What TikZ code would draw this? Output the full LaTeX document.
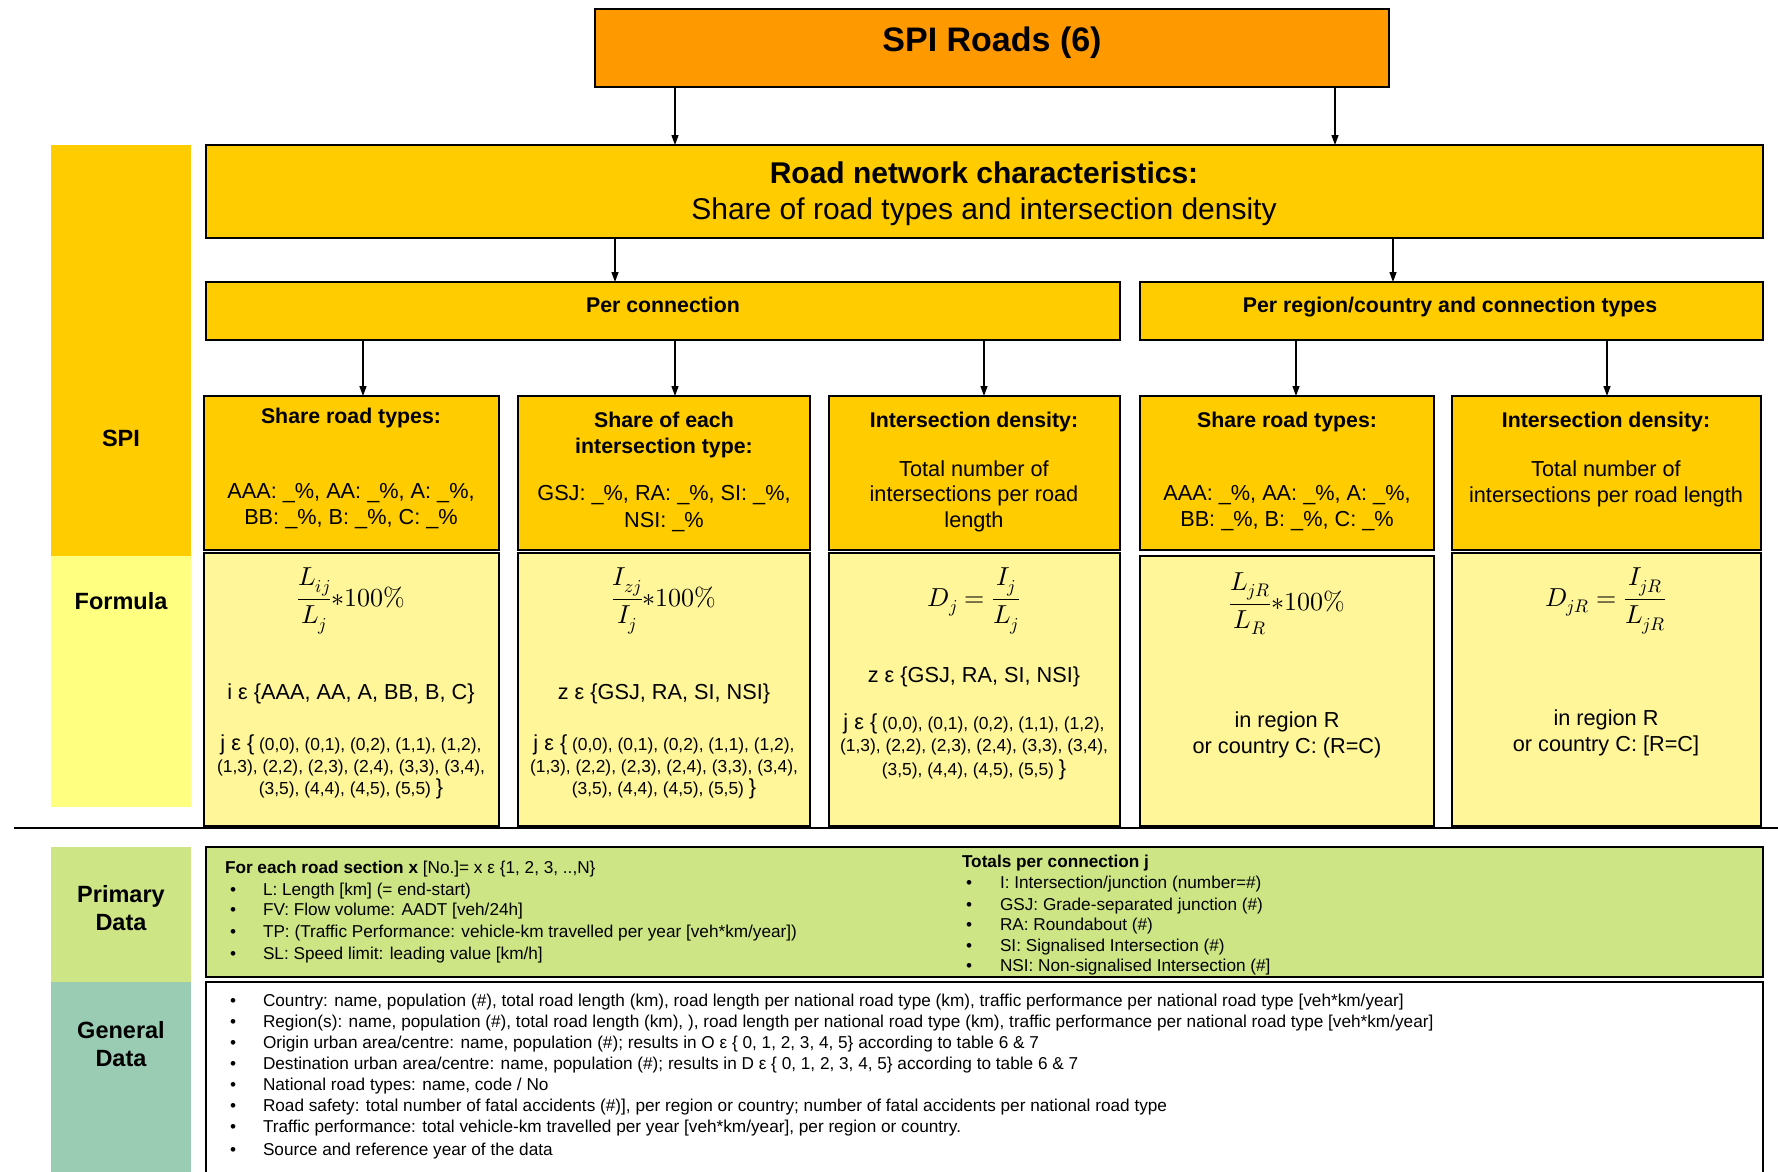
\documentclass[tikz,border=0pt]{standalone}
\usepackage{amsmath}
\usepackage{fontspec}
\usepackage{unicode-math}
\setmainfont{Liberation Sans}
\usetikzlibrary{arrows.meta}
\definecolor{cOrange}{HTML}{FF9900}
\definecolor{cGold}{HTML}{FFCC00}
\definecolor{cPale}{HTML}{FFF599}
\definecolor{cLab}{HTML}{FFFF80}
\definecolor{cLime}{HTML}{CDE584}
\definecolor{cTeal}{HTML}{99CCB3}
\tikzset{
  box/.style={draw=black, line width=2.5pt, inner sep=0pt, outer sep=0pt, anchor=north west},
  lab/.style={draw=none, inner sep=0pt, outer sep=0pt, anchor=north west},
  txt/.style={inner sep=0pt, outer sep=0pt, text depth=0pt},
  s33b/.style={txt, font=\fontsize{34}{40}\selectfont\bfseries, text height=24.5pt},
  s30b/.style={txt, font=\fontsize{30}{36}\selectfont\bfseries, text height=21.6pt},
  s30/.style={txt, font=\fontsize{30}{36}\selectfont, text height=21.6pt},
  s22b/.style={txt, font=\fontsize{23.5}{28}\selectfont\bfseries, text height=16.9pt},
  s20b/.style={txt, font=\fontsize{21.3}{25}\selectfont\bfseries, text height=15.3pt},
  s21/.style={txt, font=\fontsize{21.7}{26}\selectfont, text height=15.6pt},
  s17/.style={txt, font=\fontsize{17.4}{21}\selectfont, text height=12.5pt},
  s16/.style={txt, font=\fontsize{17.2}{20}\selectfont, text height=12.4pt, anchor=west},
  mth/.style={inner sep=0pt, outer sep=0pt, font=\fontsize{26}{30}\selectfont},
  arr/.style={line width=1.3pt, -{Triangle[length=10pt,width=7pt]}}
}
\newcommand{\jopen}{{\fontsize{21.7}{26}\selectfont j ε \{}}
\newcommand{\jclose}{{\fontsize{21.7}{26}\selectfont \}}}
\begin{document}
\begin{tikzpicture}[x=1pt,y=-1pt]
\useasboundingbox (0,0) rectangle (1778,1171);

% left labels
\node[lab, fill=cGold, minimum width=140pt, minimum height=411pt] (lspi) at (51,145) {};
\node[lab, fill=cLab, minimum width=140pt, minimum height=251pt] (lfor) at (51,556) {};
\node[lab, fill=cLime, minimum width=140pt, minimum height=135pt] (lpri) at (51,847) {};
\node[lab, fill=cTeal, minimum width=140pt, minimum height=190pt] (lgen) at (51,982) {};
\node[s22b] (tspi) at (121,438) {SPI};
\node[s22b] (tfor) at (121,601) {Formula};
\node[s22b] (tpri1) at (121,894) {Primary};
\node[s22b] (tpri2) at (121,922) {Data};
\node[s22b] (tgen1) at (121,1030) {General};
\node[s22b] (tgen2) at (121,1058) {Data};

% separator
\coordinate (sepL) at (14,828);
\coordinate (sepR) at (1778,828);
\draw[line width=2pt] (sepL) -- (sepR);

% title and top boxes
\node[box, fill=cOrange, minimum width=794pt, minimum height=78pt] (title) at (595,9) {};
\node[s33b] (ttitle) at (992,39) {SPI Roads (6)};
\node[box, fill=cGold, minimum width=1557pt, minimum height=93pt] (rn) at (206,145) {};
\node[s30b] (trn1) at (984,173) {Road network characteristics:};
\node[s30] (trn2) at (984,209) {Share of road types and intersection density};
\node[box, fill=cGold, minimum width=914pt, minimum height=58pt] (pc) at (206,282) {};
\node[s20b] (tpc) at (663,305) {Per connection};
\node[box, fill=cGold, minimum width=623pt, minimum height=58pt] (pr) at (1140,282) {};
\node[s20b] (tpr) at (1450,305) {Per region/country and connection types};

% SPI boxes
\node[box, fill=cGold, minimum width=295pt, minimum height=154pt] (s1) at (204,396) {};
\node[box, fill=cGold, minimum width=292pt, minimum height=154pt] (s2) at (518,396) {};
\node[box, fill=cGold, minimum width=291pt, minimum height=154pt] (s3) at (829,396) {};
\node[box, fill=cGold, minimum width=294pt, minimum height=154pt] (s4) at (1140,396) {};
\node[box, fill=cGold, minimum width=309pt, minimum height=154pt] (s5) at (1452,396) {};

\node[s20b] (h1) at (351,416) {Share road types:};
\node[s21] (a1) at (351,491) {AAA: \_\%, AA: \_\%, A: \_\%,};
\node[s21] (b1) at (351,517) {BB: \_\%, B: \_\%, C: \_\%};
\node[s20b] (h2a) at (664,420) {Share of each};
\node[s20b] (h2b) at (664,446) {intersection type:};
\node[s21] (a2) at (664,493) {GSJ: \_\%, RA: \_\%, SI: \_\%,};
\node[s21] (b2) at (664,520) {NSI: \_\%};
\node[s20b] (h3) at (974,420) {Intersection density:};
\node[s21] (a3) at (974,469) {Total number of};
\node[s21] (b3) at (974,494) {intersections per road};
\node[s21] (c3) at (974,520) {length};
\node[s20b] (h4) at (1287,420) {Share road types:};
\node[s21] (a4) at (1287,493) {AAA: \_\%, AA: \_\%, A: \_\%,};
\node[s21] (b4) at (1287,519) {BB: \_\%, B: \_\%, C: \_\%};
\node[s20b] (h5) at (1606,420) {Intersection density:};
\node[s21] (a5) at (1606,469) {Total number of};
\node[s21] (b5) at (1606,495) {intersections per road length};

% formula boxes
\node[box, fill=cPale, minimum width=295pt, minimum height=273pt] (f1) at (204,553) {};
\node[box, fill=cPale, minimum width=292pt, minimum height=273pt] (f2) at (518,553) {};
\node[box, fill=cPale, minimum width=291pt, minimum height=273pt] (f3) at (829,553) {};
\node[box, fill=cPale, minimum width=294pt, minimum height=270pt] (f4) at (1140,556) {};
\node[box, fill=cPale, minimum width=309pt, minimum height=273pt] (f5) at (1452,553) {};

\node[mth] (m1) at (351,601) {$\dfrac{L_{ij}}{L_j}{*}100\%$};
\node[s21] (i1) at (351,692) {i ε \{AAA, AA, A, BB, B, C\}};
\node[s17] (j1a) at (351,744) {\jopen{} (0,0), (0,1), (0,2), (1,1), (1,2),};
\node[s17] (j1b) at (351,766) {(1,3), (2,2), (2,3), (2,4), (3,3), (3,4),};
\node[s17] (j1c) at (351,788) {(3,5), (4,4), (4,5), (5,5) \jclose};

\node[mth] (m2) at (664,601) {$\dfrac{I_{zj}}{I_j}{*}100\%$};
\node[s21] (i2) at (664,692) {z ε \{GSJ, RA, SI, NSI\}};
\node[s17] (j2a) at (664,744) {\jopen{} (0,0), (0,1), (0,2), (1,1), (1,2),};
\node[s17] (j2b) at (664,766) {(1,3), (2,2), (2,3), (2,4), (3,3), (3,4),};
\node[s17] (j2c) at (664,788) {(3,5), (4,4), (4,5), (5,5) \jclose};

\node[mth] (m3) at (974,601) {$D_j=\dfrac{I_j}{L_j}$};
\node[s21] (i3) at (974,675) {z ε \{GSJ, RA, SI, NSI\}};
\node[s17] (j3a) at (974,723) {\jopen{} (0,0), (0,1), (0,2), (1,1), (1,2),};
\node[s17] (j3b) at (974,745) {(1,3), (2,2), (2,3), (2,4), (3,3), (3,4),};
\node[s17] (j3c) at (974,769) {(3,5), (4,4), (4,5), (5,5) \jclose};

\node[mth] (m4) at (1287,604) {$\dfrac{L_{jR}}{L_R}{*}100\%$};
\node[s21] (r4a) at (1287,720) {in region R};
\node[s21] (r4b) at (1287,746) {or country C: (R=C)};

\node[mth] (m5) at (1606,601) {$D_{jR}=\dfrac{I_{jR}}{L_{jR}}$};
\node[s21] (r5a) at (1606,718) {in region R};
\node[s21] (r5b) at (1606,744) {or country C: [R=C]};

% primary data
\node[box, fill=cLime, minimum width=1557pt, minimum height=130pt] (prim) at (206,847) {};
\node[s16] (ph) at (225,867) {\textbf{For each road section x} [No.]= x ε \{1, 2, 3, ..,N\}};
\node[s16] (pb1) at (230,889) {•};
\node[s16] (pt1) at (263,889) {L: Length [km] (= end-start)};
\node[s16] (pb2) at (230,909) {•};
\node[s16] (pt2) at (263,909) {FV: Flow volume: AADT [veh/24h]};
\node[s16] (pb3) at (230,931) {•};
\node[s16] (pt3) at (263,931) {TP: (Traffic Performance: vehicle-km travelled per year [veh*km/year])};
\node[s16] (pb4) at (230,953) {•};
\node[s16] (pt4) at (263,953) {SL: Speed limit: leading value [km/h]};

\node[s16] (qh) at (962,861) {\textbf{Totals per connection j}};
\node[s16] (qb1) at (966,882) {•};
\node[s16] (qt1) at (1000,882) {I: Intersection/junction (number=\#)};
\node[s16] (qb2) at (966,904) {•};
\node[s16] (qt2) at (1000,904) {GSJ: Grade-separated junction (\#)};
\node[s16] (qb3) at (966,924) {•};
\node[s16] (qt3) at (1000,924) {RA: Roundabout (\#)};
\node[s16] (qb4) at (966,945) {•};
\node[s16] (qt4) at (1000,945) {SI: Signalised Intersection (\#)};
\node[s16] (qb5) at (966,965) {•};
\node[s16] (qt5) at (1000,965) {NSI: Non-signalised Intersection (\#]};

% general data
\node[box, fill=white, minimum width=1557pt, minimum height=220pt] (gen) at (206,982) {};
\node[s16] (gb1) at (230,1000) {•};
\node[s16] (gt1) at (263,1000) {Country: name, population (\#), total road length (km), road length per national road type (km), traffic performance per national road type [veh*km/year]};
\node[s16] (gb2) at (230,1021) {•};
\node[s16] (gt2) at (263,1021) {Region(s): name, population (\#), total road length (km), ), road length per national road type (km), traffic performance per national road type [veh*km/year]};
\node[s16] (gb3) at (230,1042) {•};
\node[s16] (gt3) at (263,1042) {Origin urban area/centre: name, population (\#); results in O ε \{ 0, 1, 2, 3, 4, 5\} according to table 6 \& 7};
\node[s16] (gb4) at (230,1063) {•};
\node[s16] (gt4) at (263,1063) {Destination urban area/centre: name, population (\#); results in D ε \{ 0, 1, 2, 3, 4, 5\} according to table 6 \& 7};
\node[s16] (gb5) at (230,1084) {•};
\node[s16] (gt5) at (263,1084) {National road types: name, code / No};
\node[s16] (gb6) at (230,1105) {•};
\node[s16] (gt6) at (263,1105) {Road safety: total number of fatal accidents (\#)], per region or country; number of fatal accidents per national road type};
\node[s16] (gb7) at (230,1126) {•};
\node[s16] (gt7) at (263,1126) {Traffic performance: total vehicle-km travelled per year [veh*km/year], per region or country.};
\node[s16] (gb8) at (230,1149) {•};
\node[s16] (gt8) at (263,1149) {Source and reference year of the data};

% arrows
\coordinate (xa) at (675,0);
\coordinate (xb) at (1335,0);
\coordinate (xc) at (615,0);
\coordinate (xd) at (1393,0);
\coordinate (x1) at (363,0);
\coordinate (x2) at (675,0);
\coordinate (x3) at (984,0);
\coordinate (x4) at (1296,0);
\coordinate (x5) at (1607,0);
\draw[arr] (title.south -| xa) -- (rn.north -| xa);
\draw[arr] (title.south -| xb) -- (rn.north -| xb);
\draw[arr] (rn.south -| xc) -- (pc.north -| xc);
\draw[arr] (rn.south -| xd) -- (pr.north -| xd);
\draw[arr] (pc.south -| x1) -- (s1.north -| x1);
\draw[arr] (pc.south -| x2) -- (s2.north -| x2);
\draw[arr] (pc.south -| x3) -- (s3.north -| x3);
\draw[arr] (pr.south -| x4) -- (s4.north -| x4);
\draw[arr] (pr.south -| x5) -- (s5.north -| x5);
\end{tikzpicture}
\end{document}
